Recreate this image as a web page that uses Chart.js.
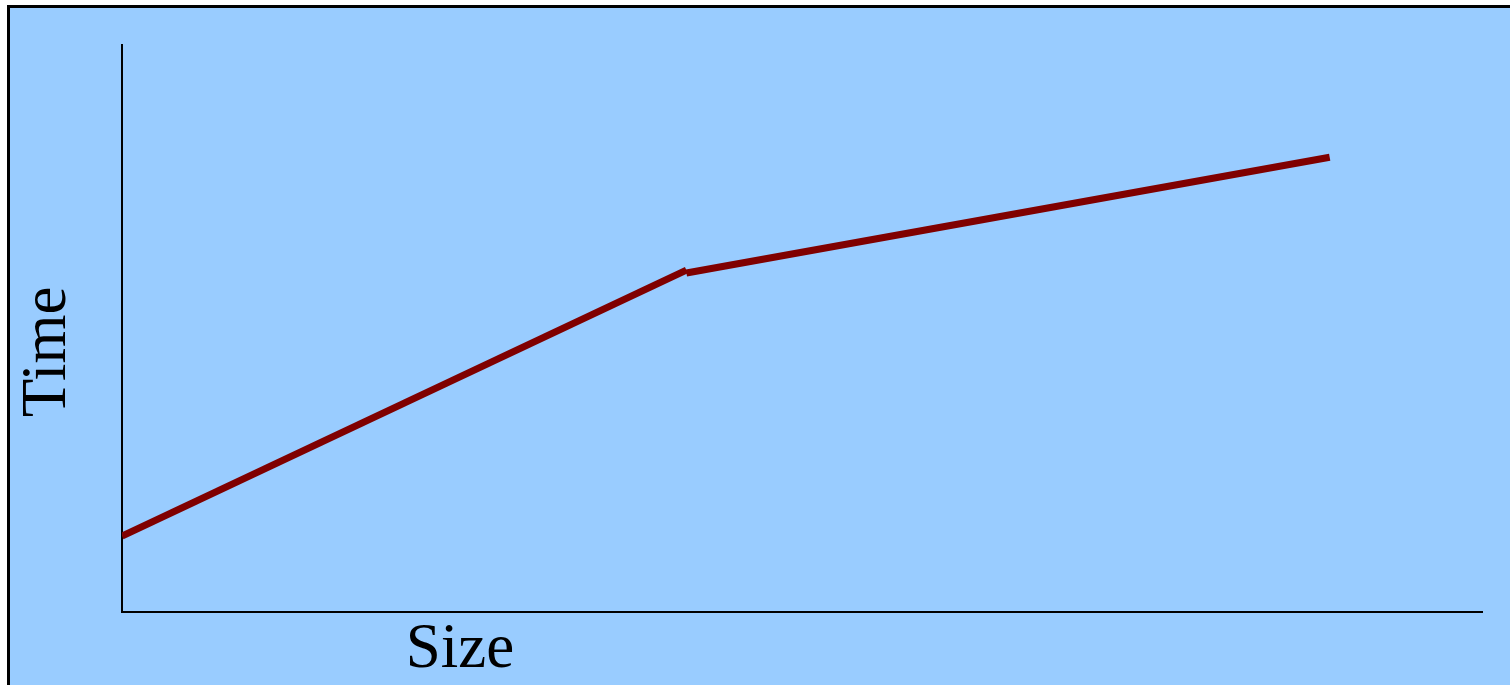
<!DOCTYPE html>
<html>
<head>
<meta charset="utf-8">
<script src="https://cdn.jsdelivr.net/npm/chart.js@4/dist/chart.umd.min.js"></script>
<style>
    html, body { margin: 0; padding: 0; background: #fff; overflow: hidden; }
    .frame {
        position: absolute; left: 7px; top: 5px;
        width: 1600px; height: 800px;
        background: #99ccff;
        border: 3px solid #000;
    }
    .wrap { position: absolute; left: 0; top: 0; width: 1510px; height: 685px; }
</style>
</head>
<body>
<div class="frame"></div>
<div class="wrap"><canvas id="chart"></canvas></div>
<script>
// two straight runs, with a small step at the break
const firstRunX = [0, 41.5];
const firstRunY = [13.4, 60.3];
const secondRunX = [41.5, 88.8];
const secondRunY = [59.8, 80.2];
const xLabel = 'Size';
const yLabel = 'Time';

const toPoints = (xs, ys) => xs.map((x, i) => ({ x: x, y: ys[i] }));

// ==================== AXIS LABELS ====================
const axisLabels = {
    id: 'axisLabels',
    afterDraw: function(chart) {
        const ctx = chart.ctx;
        ctx.save();
        ctx.fillStyle = '#000';
        ctx.font = '63px "Liberation Serif", "Times New Roman", serif';
        ctx.textAlign = 'center';
        ctx.textBaseline = 'middle';
        ctx.fillText(xLabel, 460, 650);
        ctx.translate(48, 352);
        ctx.rotate(-Math.PI / 2);
        ctx.fillText(yLabel, 0, 0);
        ctx.restore();
    }
};

const lineStyle = {
    borderColor: '#800000',
    borderWidth: 7,
    borderCapStyle: 'butt',
    pointRadius: 0,
    fill: false,
    tension: 0
};

new Chart(document.getElementById('chart'), {
    type: 'line',
    data: {
        datasets: [
            Object.assign({ label: 'a', data: toPoints(firstRunX, firstRunY) }, lineStyle),
            Object.assign({ label: 'b', data: toPoints(secondRunX, secondRunY) }, lineStyle)
        ]
    },
    options: {
        responsive: true,
        maintainAspectRatio: false,
        animation: false,
        layout: { padding: { left: 114, top: 45, right: 28, bottom: 65 } },
        plugins: { legend: { display: false }, tooltip: { enabled: false } },
        scales: {
            x: {
                type: 'linear', min: 0, max: 100,
                grid: { display: false },
                ticks: { display: false },
                border: { display: true, color: '#000', width: 2 }
            },
            y: {
                type: 'linear', min: 0, max: 100,
                grid: { display: false },
                ticks: { display: false },
                border: { display: true, color: '#000', width: 2 }
            }
        }
    },
    plugins: [axisLabels]
});
</script>
</body>
</html>
